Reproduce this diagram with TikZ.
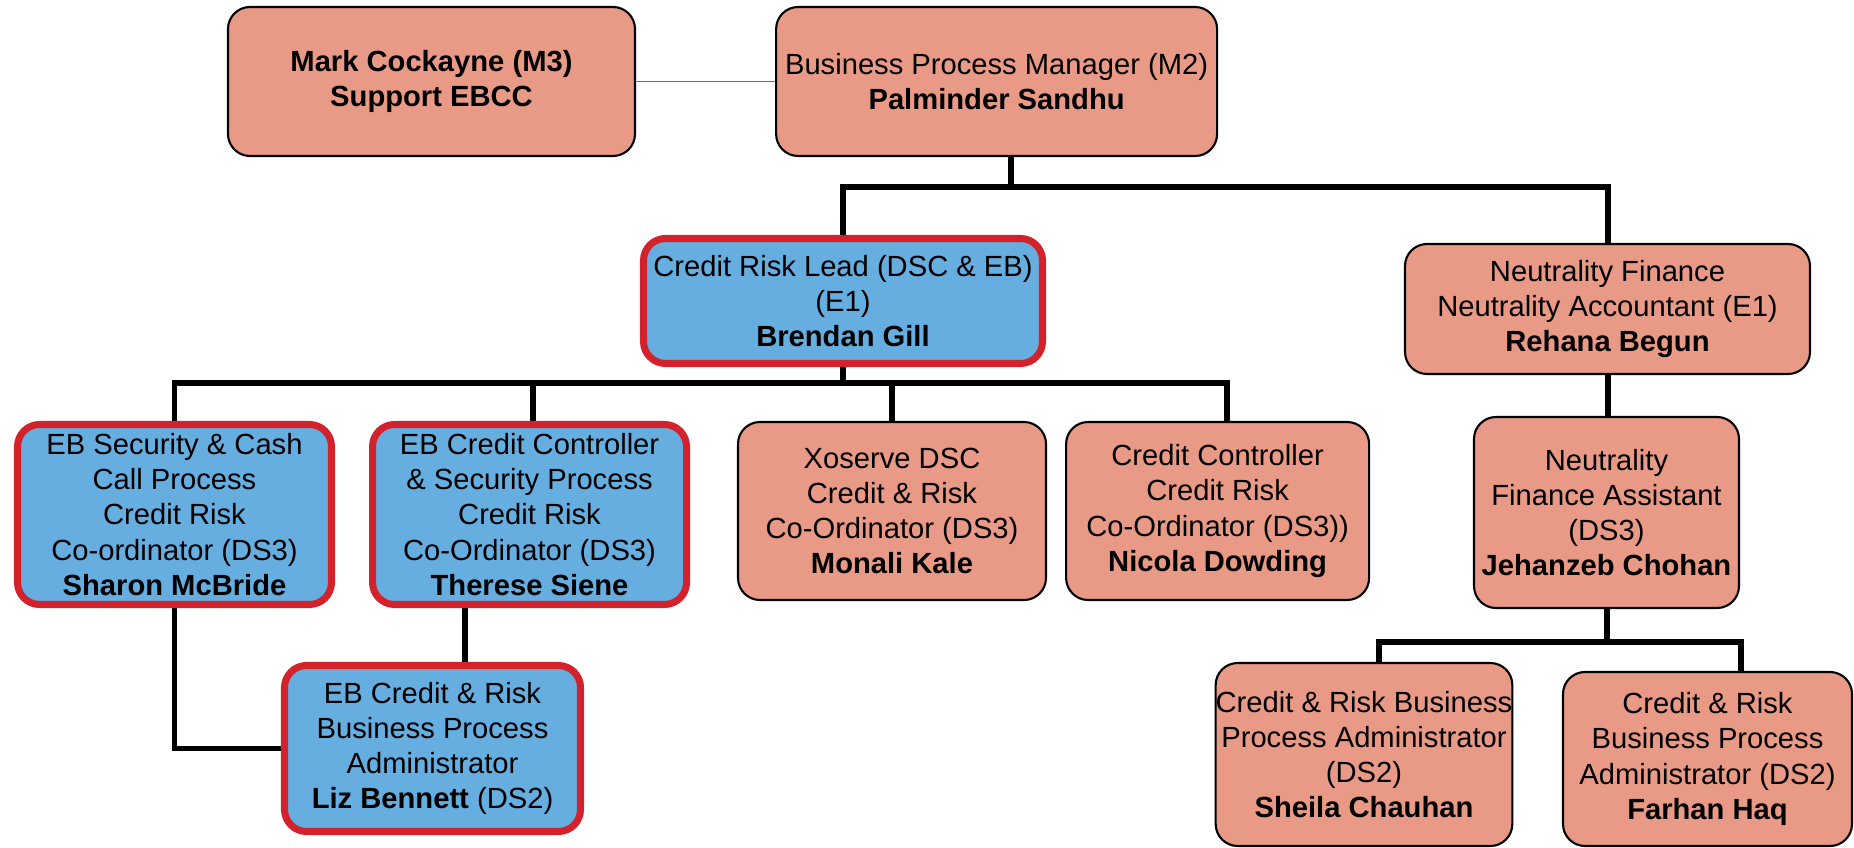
\documentclass[tikz,border=0pt]{standalone}
\usepackage{fontspec}
\setmainfont{Liberation Sans}
\usepackage{xcolor}
\usetikzlibrary{positioning}

\definecolor{postFill}{HTML}{E89A86}
\definecolor{teamFill}{HTML}{66ADE0}
\definecolor{teamEdge}{HTML}{D3222B}
\definecolor{asideBlue}{HTML}{4A6FB5}

\begin{document}
\begin{tikzpicture}[
  x=0.1mm, y=-0.1mm,
  post/.style={draw=black, line width=0.6pt, rounded corners=2.2mm, fill=postFill, align=center, inner sep=0pt, font=\fontsize{8.3}{10}\selectfont},
  team/.style={post, draw=teamEdge, line width=2pt, fill=teamFill},
  link/.style={draw, line width=1.7pt},
  aside/.style={draw=asideBlue, line width=0.5pt}
]
\useasboundingbox (0,0) rectangle (1854,848);

% top row
\node[post, minimum width=40.7mm, minimum height=14.9mm] (mark) at (431.5,81.5) {\textbf{Mark Cockayne (M3)}\\\textbf{Support EBCC}};
\node[post, minimum width=44.1mm, minimum height=14.9mm, right=13.9mm of mark] (bpm) {Business Process Manager (M2)\\\textbf{Palminder Sandhu}};

% second row
\node[team, minimum width=39.9mm, minimum height=12.5mm] (creditLead) at (843,301) {Credit Risk Lead (DSC \& EB)\\(E1)\\\textbf{Brendan Gill}};
\node[post, minimum width=40.5mm, minimum height=13mm] (neutralFin) at (1607.5,309) {Neutrality Finance\\Neutrality Accountant (E1)\\\textbf{Rehana Begun}};

% third row
\node[team, minimum width=31.4mm, minimum height=18mm] (ebSecurity) at (174.5,514.5) {EB Security \& Cash\\Call Process\\Credit Risk\\Co-ordinator (DS3)\\\textbf{Sharon McBride}};
\node[team, minimum width=31.4mm, minimum height=18mm, right=3.4mm of ebSecurity] (ebController) {EB Credit Controller\\\& Security Process\\Credit Risk\\Co-Ordinator (DS3)\\\textbf{Therese Siene}};
\node[post, minimum width=30.8mm, minimum height=17.8mm] (xoserveDsc) at (892,511) {Xoserve DSC\\Credit \& Risk\\Co-Ordinator (DS3)\\\textbf{Monali Kale}};
\node[post, minimum width=30.3mm, minimum height=17.8mm, right=1.8mm of xoserveDsc] (creditCtrl) {Credit Controller\\Credit Risk\\Co-Ordinator (DS3))\\\textbf{Nicola Dowding}};
\node[post, minimum width=26.5mm, minimum height=19.1mm] (neutralAsst) at (1606.5,512.5) {Neutrality\\Finance Assistant\\(DS3)\\\textbf{Jehanzeb Chohan}};

% bottom row
\node[team, minimum width=29.6mm, minimum height=16.6mm] (ebAdmin) at (432.5,748.5) {EB Credit \& Risk\\Business Process\\Administrator\\\textbf{Liz Bennett} (DS2)};
\node[post, minimum width=29.6mm, minimum height=18.3mm] (crAdminOne) at (1364,754.5) {Credit \& Risk Business\\Process Administrator\\(DS2)\\\textbf{Sheila Chauhan}};
\node[post, minimum width=28.9mm, minimum height=17.4mm] (crAdminTwo) at (1707.5,759) {Credit \& Risk\\Business Process\\Administrator (DS2)\\\textbf{Farhan Haq}};

% bar levels and drop points
\coordinate (barTop) at (0,187);
\coordinate (barMid) at (0,383);
\coordinate (barLow) at (0,642);
\coordinate (bpmDrop) at ([xshift=1.4mm]bpm.south);
\coordinate (ctrlDrop) at ([xshift=0.9mm]creditCtrl.north);
\coordinate (ebCtrlDrop) at ([xshift=0.35mm]ebController.north);
\coordinate (adminOneDrop) at ([xshift=1.5mm]crAdminOne.north);
\coordinate (adminTwoDrop) at ([xshift=3.3mm]crAdminTwo.north);
\coordinate (lizDrop) at ([xshift=3.25mm]ebAdmin.north);

\draw[aside] (mark) -- (bpm);

\draw[link] (bpmDrop) -- (bpmDrop |- barTop);
\draw[link] (creditLead.north) |- (barTop -| neutralFin.north) -- (neutralFin.north);

\draw[link] (creditLead.south) -- (creditLead.south |- barMid);
\draw[link] (ebSecurity.north) |- (ctrlDrop |- barMid) -- (ctrlDrop);
\draw[link] (ebCtrlDrop) -- (ebCtrlDrop |- barMid);
\draw[link] (xoserveDsc.north) -- (xoserveDsc.north |- barMid);

\draw[link] (neutralFin.south) -- (neutralFin.south |- neutralAsst.north);
\draw[link] (neutralAsst.south) -- (neutralAsst.south |- barLow);
\draw[link] (adminOneDrop) |- (adminTwoDrop |- barLow) -- (adminTwoDrop);

\draw[link] (ebSecurity.south) |- (ebAdmin.west);
\draw[link] (lizDrop) -- (lizDrop |- ebController.south);

\end{tikzpicture}
\end{document}
